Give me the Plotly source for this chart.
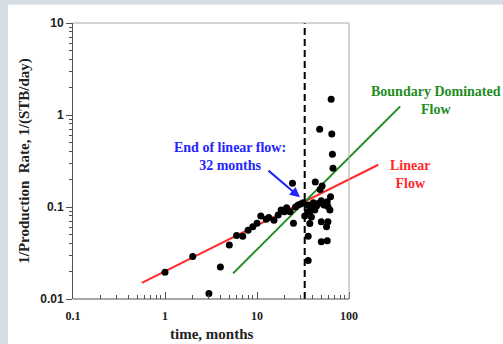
import plotly.graph_objects as go

# ---------------- data ----------------
time_months = [1, 2, 3, 4, 5, 6, 7, 8, 9, 10,
               11, 12.6, 13.4, 15.3, 17, 18.3, 19.8, 21, 22.9, 24.3, 24.9, 26.2, 28, 29.8, 31.7,
               33, 35.5, 36, 36, 36, 37.5, 37.5, 38.5, 39, 41, 42.5, 43, 44.5, 47, 48, 48.5,
               50, 50, 50, 51, 53.5, 57, 58, 58, 59, 59, 62, 63, 64, 65, 66, 67]
inv_rate = [0.0195, 0.029, 0.0115, 0.0223, 0.0386, 0.049, 0.048, 0.056, 0.061, 0.0665,
            0.080, 0.0735, 0.077, 0.0717, 0.082, 0.093, 0.0886, 0.098, 0.0886, 0.181, 0.0665, 0.100, 0.105, 0.108, 0.111,
            0.080, 0.089, 0.105, 0.048, 0.0262, 0.089, 0.066, 0.099, 0.078, 0.111, 0.093, 0.187, 0.103, 0.110, 0.70, 0.155,
            0.117, 0.069, 0.042, 0.169, 0.105, 0.061, 0.114, 0.043, 0.101, 0.069, 0.093, 0.129, 1.48, 0.62, 0.374, 0.263]

linear_fit_t = [0.56, 208]
linear_fit_rate = [0.0150, 0.288]
bdf_fit_t = [5.5, 360]
bdf_fit_rate = [0.019, 1.24]
end_linear_t = 33
y_extent = [0.01, 10]

x_tickvals = [0.1, 1, 10, 100]
x_ticktext = ["0.1", "1", "10", "100"]
x_minor = [m * d for d in (0.1, 1, 10) for m in range(2, 10)]
y_tickvals = [0.01, 0.1, 1, 10]
y_ticktext = ["0.01", "0.1", "1", "10"]
y_minor = [m * d for d in (0.01, 0.1, 1) for m in range(2, 10)]

# ---------------- layout geometry ----------------
W, H = 503, 344
ML, MR, MT, MB = 73, 0, 23, 45
PW, PH = W - ML - MR, H - MT - MB
DEC = 92.0  # pixels per decade
x_range = [-1, -1 + PW / DEC]
y_range = [-2, 1]


def px(xp):
    return (xp - ML) / PW


def py(yp):
    return (MT + PH - yp) / PH


SERIF = "Liberation Serif, Times New Roman, serif"
SANS = "Liberation Sans, Arial, sans-serif"
GREEN = "#1e8c1e"
RED = "#ff2a2a"
BLUE = "#2424ff"

fig = go.Figure()

fig.add_trace(go.Scatter(x=linear_fit_t, y=linear_fit_rate, mode="lines",
                         line=dict(color=RED, width=2), showlegend=False))
fig.add_trace(go.Scatter(x=bdf_fit_t, y=bdf_fit_rate, mode="lines",
                         line=dict(color=GREEN, width=2), showlegend=False))
fig.add_trace(go.Scatter(x=[end_linear_t, end_linear_t], y=y_extent, mode="lines",
                         line=dict(color="black", width=2, dash="7px,4px"), showlegend=False))
fig.add_trace(go.Scatter(x=time_months, y=inv_rate, mode="markers",
                         marker=dict(color="black", size=7), showlegend=False))

shapes = [
    # page background bands
    dict(type="rect", xref="paper", yref="paper", x0=px(0), x1=px(8), y0=py(H), y1=py(0),
         fillcolor="#d4dce4", line_width=0, layer="below"),
    dict(type="rect", xref="paper", yref="paper", x0=px(0), x1=px(W), y0=py(4.5), y1=py(0),
         fillcolor="#d4dce4", line_width=0, layer="below"),
    # frame
    dict(type="line", xref="x", yref="paper", x0=x_tickvals[0], x1=x_tickvals[-1], y0=1, y1=1,
         line=dict(color="#a8a8a8", width=1)),
    dict(type="line", xref="x", yref="paper", x0=x_tickvals[-1], x1=x_tickvals[-1], y0=0, y1=1,
         line=dict(color="#a8a8a8", width=1)),
    dict(type="line", xref="x", yref="paper", x0=x_tickvals[0], x1=x_tickvals[-1], y0=0, y1=0,
         line=dict(color="#505050", width=1)),
]

annotations = [
    dict(xref="paper", yref="paper", x=px(230), y=py(156), text="<b>End of linear flow:<br>32 months</b>",
         showarrow=False, font=dict(family=SERIF, size=14, color=BLUE), xanchor="center", yanchor="middle"),
    dict(xref="x", yref="y", x=1.467, y=-0.895, text="", showarrow=True, ax=-33, ay=-28,
         arrowhead=2, arrowsize=1, arrowwidth=2, arrowcolor=BLUE, standoff=0),
    dict(xref="paper", yref="paper", x=px(436), y=py(100), text="<b>Boundary Dominated<br>Flow</b>",
         showarrow=False, font=dict(family=SERIF, size=14, color=GREEN), xanchor="center", yanchor="middle"),
    dict(xref="paper", yref="paper", x=px(410), y=py(174), text="<b>Linear<br>Flow</b>",
         showarrow=False, font=dict(family=SERIF, size=14, color=RED), xanchor="center", yanchor="middle"),
    dict(xref="paper", yref="paper", x=px(211), y=py(334), text="<b>time, months</b>",
         showarrow=False, font=dict(family=SERIF, size=15, color="#222"), xanchor="center", yanchor="middle"),
]

fig.update_layout(
    width=W, height=H,
    margin=dict(l=ML, r=MR, t=MT, b=MB, pad=0),
    paper_bgcolor="white", plot_bgcolor="white",
    shapes=shapes, annotations=annotations,
    showlegend=False,
)
fig.update_xaxes(type="log", range=x_range, showgrid=False, zeroline=False, showline=False,
                 tickmode="array", tickvals=x_tickvals, ticktext=x_ticktext,
                 ticks="inside", ticklen=7, tickcolor="#505050", tickwidth=1,
                 ticklabelstandoff=8,
                 tickfont=dict(family=SERIF, size=12, color="#222", weight="bold"),
                 minor=dict(tickmode="array", tickvals=x_minor, ticks="inside", ticklen=4,
                            tickcolor="#505050", showgrid=False))
fig.update_yaxes(type="log", range=y_range, showgrid=False, zeroline=False,
                 showline=True, linecolor="#505050", linewidth=1,
                 tickmode="array", tickvals=y_tickvals, ticktext=y_ticktext,
                 ticks="outside", ticklen=6, tickcolor="#505050", tickwidth=1,
                 tickfont=dict(family=SANS, size=12, color="#222", weight="bold"),
                 minor=dict(tickmode="array", tickvals=y_minor, ticks="outside", ticklen=3,
                            tickcolor="#505050", showgrid=False),
                 title=dict(text="<b>1/Production  Rate, 1/(STB/day)</b>", standoff=6,
                            font=dict(family=SERIF, size=15, color="#222")))

fig.write_html("out.html", config={"displayModeBar": False},
               post_script="document.body.style.margin='0px';document.body.style.overflow='hidden';")
